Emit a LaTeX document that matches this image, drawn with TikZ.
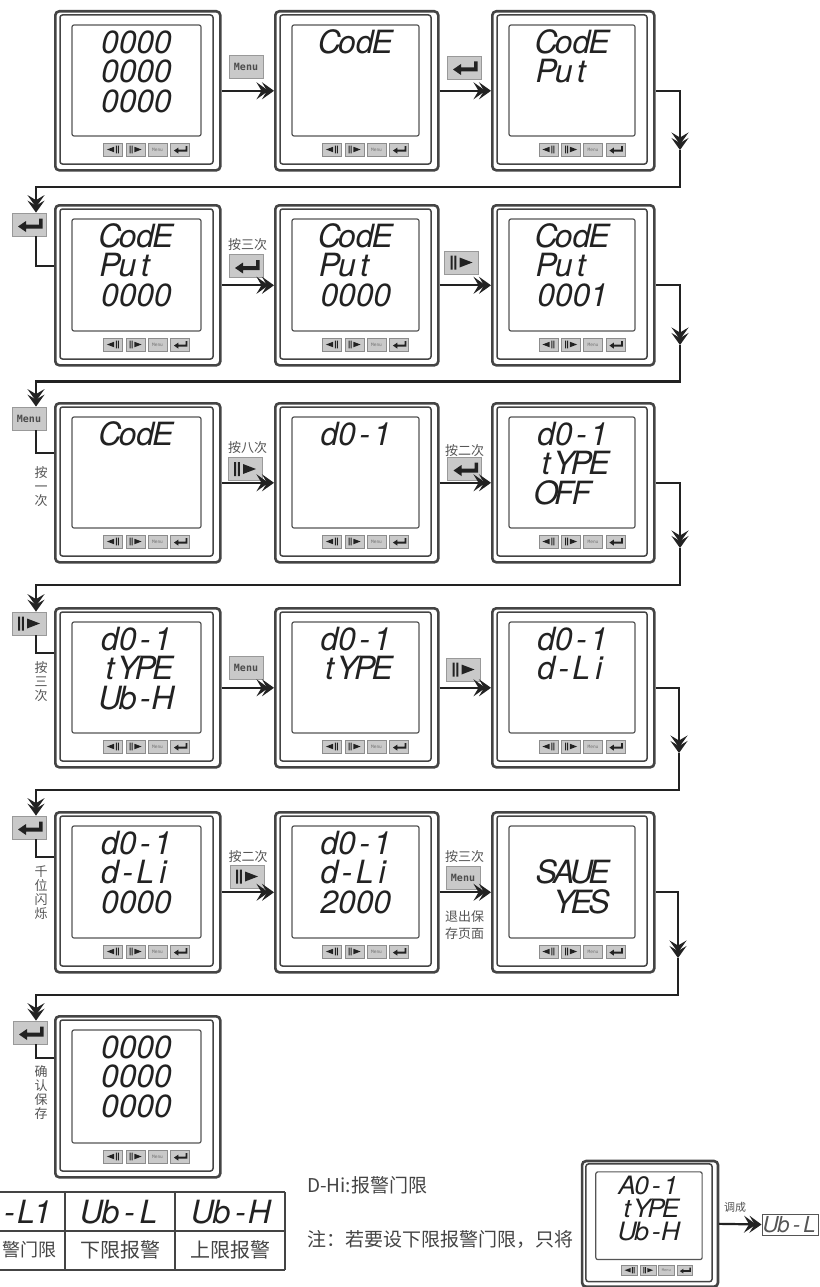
\documentclass[tikz,border=0pt]{standalone}
\usepackage{fontspec}
\usetikzlibrary{arrows.meta}
\setmainfont{Liberation Sans}
\newfontfamily\cjk{Noto Sans CJK SC}
\newfontfamily\lcdfont{TeX Gyre Heros}
\newfontfamily\menufont{DejaVu Sans Mono}
\definecolor{ink}{HTML}{222222}
\definecolor{frame}{HTML}{444444}
\definecolor{keyfill}{HTML}{C9C9C9}
\definecolor{labelc}{HTML}{555555}
\newlength\lcdw
\setlength\lcdw{17.6pt}
\makeatletter
\newcommand\lcdcells[1]{\@tfor\lcdc:=#1\do{\makebox[\lcdw][c]{\lcdc}}}
\makeatother
\newcommand\lcdsize[1]{\fontsize{#1}{#1}\lcdfont\itshape}
\tikzset{
  outerbox/.style={draw=frame,line width=2.6pt,rounded corners=4pt,inner sep=0pt,fill=white},
  innerbox/.style={draw=frame,line width=1.5pt,rounded corners=2.5pt,inner sep=0pt},
  screenbox/.style={draw=labelc,line width=1.2pt,rounded corners=2pt,inner sep=0pt},
  minikey/.style={draw=black!45,line width=.8pt,fill=keyfill,minimum width=19pt,minimum height=13pt,inner sep=0pt,font=\menufont\fontsize{4.5}{5}\selectfont,text=black!55},
  bigkey/.style={draw=black!40,line width=.8pt,fill=keyfill,minimum width=34pt,minimum height=23pt,inner sep=0pt,font=\menufont\bfseries\fontsize{10}{11}\selectfont,text=black!70},
  flow/.style={draw=ink,line width=2.2pt,line join=miter,-{Stealth[length=12pt,width=17pt,inset=5pt,sep=-6.5pt]Stealth[length=12pt,width=17pt,inset=5pt]}},
  plain/.style={draw=ink,line width=2.2pt,line join=miter},
  cjklabel/.style={font=\cjk\fontsize{13}{14}\selectfont,text=labelc,inner sep=0pt,align=center},
  notetext/.style={font=\cjk\fontsize{19}{21}\selectfont,text=frame,inner sep=0pt,anchor=west},
  celltext/.style={font=\cjk\fontsize{20}{22}\selectfont,text=frame,inner sep=0pt},
  lcdtext/.style={inner sep=0pt,text=ink},
  tbl/.style={draw=frame,line width=1.1pt},
  ienter/.pic={\fill[ink] (-11,2)--(-3,-3.5)--(-3,0)--(10,0)--(10,-6)--(13.5,-6)--(13.5,4)--(-3,4)--(-3,7.5)--cycle;},
  iright/.pic={\fill[ink] (-10.8,-7) rectangle (-8.8,7) (-7.2,-7) rectangle (-5.2,7) (-2,-5)--(11,0)--(-2,5)--cycle;},
  ileft/.pic={\fill[ink] (10.8,-7) rectangle (8.8,7) (7.2,-7) rectangle (5.2,7) (2,-5)--(-11,0)--(2,5)--cycle;},
}
% a whole instrument front panel
\newcommand\panel[7][]{%
  \begin{scope}[shift={(#3,#4)},transform shape,#1]
    \def\pname{#2}\def\plx{#5*0.285}
    \node[outerbox,anchor=north west,minimum width=#5pt,minimum height=#6pt] (#2) at (0,0) {};
    \node[innerbox,minimum width={(#5-12)*1pt},minimum height={(#6-10)*1pt}] (#2-f) at (#5/2,#6/2) {};
    \node[screenbox,minimum width={(#5-36)*1pt},minimum height={(#6-48)*1pt}] (#2-s) at (#5/2,#6/2-9) {};
    \node[minikey] (#2-k1) at (#5/2-23.5,#6-19.5) {};
    \node[minikey] (#2-k2) at (#5/2-1,#6-19.5) {};
    \node[minikey] (#2-k3) at (#5/2+21,#6-19.5) {Menu};
    \node[minikey] (#2-k4) at (#5/2+43.5,#6-19.5) {};
    \path (#2-k1) pic[scale=.55] {ileft};
    \path (#2-k2) pic[scale=.55] {iright};
    \path (#2-k4) pic[scale=.55] {ienter};
    #7
  \end{scope}}
% one line of display text: line number, cell offset, text
\newcommand\lcdl[3]{%
  \node[lcdtext,anchor=base west] (\pname-l#1) at ({\plx+#2*17.6},{14.5+29.2*#1}) {\lcdsize{32}\lcdcells{#3}};}
% a loose key with a symbol
\newcommand\looseicon[4]{\node[bigkey] (#1) at (#2,#3) {}; \path (#1) pic {#4};}
\newcommand\loosemenu[3]{\node[bigkey] (#1) at (#2,#3) {Menu};}
% return path from the end of one row to the start of the next
\newcommand\rowreturn[7]{% from, key, to, tip y, horizontal y, stub y, right x
  \coordinate (t#2) at (#7,#4);
  \coordinate (hr#2) at (#7,#5);
  \coordinate (hl#2) at (36,#5);
  \coordinate (s#2) at (36,#6);
  \draw[flow] (#1.east) -| (t#2);
  \draw[flow] (t#2) -- (hr#2) -- (hl#2) -- (#2.north -| hl#2);
  \draw[plain] (#2.south -| s#2) -- (s#2) -- (#3.west |- s#2);}
\begin{document}
\begin{tikzpicture}[x=1pt,y=-1pt]
\useasboundingbox (0,0) rectangle (819,1287);
\clip (0,0) rectangle (819,1287);
\fill[white] (0,0) rectangle (819,1287);

% row 1
\panel{a1}{54}{10}{165}{159}{\lcdl{1}{0}{0000}\lcdl{2}{0}{0000}\lcdl{3}{0}{0000}}
\panel{b1}{274}{10}{163}{159}{\lcdl{1}{0}{CodE}}
\panel{c1}{491}{10}{162}{159}{\lcdl{1}{0}{CodE}\lcdl{2}{0}{Put}}
% row 2
\panel{a2}{54}{204}{165}{160}{\lcdl{1}{0}{CodE}\lcdl{2}{0}{Put}\lcdl{3}{0}{0000}}
\panel{b2}{274}{204}{163}{160}{\lcdl{1}{0}{CodE}\lcdl{2}{0}{Put}\lcdl{3}{0}{0000}}
\panel{c2}{491}{204}{162}{160}{\lcdl{1}{0}{CodE}\lcdl{2}{0}{Put}\lcdl{3}{0}{0001}}
% row 3
\panel{a3}{54}{402}{165}{159}{\lcdl{1}{0}{CodE}}
\panel{b3}{274}{402}{163}{159}{\lcdl{1}{0}{d0-1}}
\panel{c3}{491}{402}{162}{159}{\lcdl{1}{0}{d0-1}\lcdl{2}{0}{tYPE}\lcdl{3}{0}{OFF}}
% row 4
\panel{a4}{54}{607}{165}{159}{\lcdl{1}{0}{d0-1}\lcdl{2}{0}{tYPE}\lcdl{3}{0}{Ub-H}}
\panel{b4}{274}{607}{163}{159}{\lcdl{1}{0}{d0-1}\lcdl{2}{0}{tYPE}}
\panel{c4}{491}{607}{162}{159}{\lcdl{1}{0}{d0-1}\lcdl{2}{0}{d-Li}}
% row 5
\panel{a5}{54}{811}{165}{160}{\lcdl{1}{0}{d0-1}\lcdl{2}{0}{d-Li}\lcdl{3}{0}{0000}}
\panel{b5}{274}{811}{163}{160}{\lcdl{1}{0}{d0-1}\lcdl{2}{0}{d-Li}\lcdl{3}{0}{2000}}
\panel{c5}{491}{811}{162}{160}{\lcdl{2}{0}{SAUE}\lcdl{3}{1}{YES}}
% row 6
\panel{a6}{54}{1015}{165}{161}{\lcdl{1}{0}{0000}\lcdl{2}{0}{0000}\lcdl{3}{0}{0000}}
% small panel at the bottom right
\panel[xscale=.824,yscale=.79]{e1}{581}{1160}{165}{159}{\lcdl{1}{0}{A0-1}\lcdl{2}{0}{tYPE}\lcdl{3}{0}{Ub-H}}

% keys between panels
\loosemenu{m1}{246}{66.5}
\looseicon{m2}{464}{67.5}{ienter}
\looseicon{m3}{246}{266}{ienter}
\looseicon{m4}{461.5}{262.5}{iright}
\looseicon{m5}{245}{469}{iright}
\looseicon{m6}{464.5}{468.5}{ienter}
\loosemenu{m7}{246}{667.5}
\looseicon{m8}{463.5}{669.5}{iright}
\looseicon{m9}{247}{876.5}{iright}
\loosemenu{m10}{463}{877.5}

% keys at the row starts
\looseicon{n2}{29}{224.5}{ienter}
\loosemenu{n3}{29}{418.5}
\looseicon{n4}{29}{623.5}{iright}
\looseicon{n5}{29}{827.5}{ienter}
\looseicon{n6}{30}{1032.5}{ienter}

% labels
\node[cjklabel] (p1) at (247.5,245) {按三次};
\node[cjklabel] (p2) at (247.5,448) {按八次};
\node[cjklabel] (p3) at (464.5,451) {按二次};
\node[cjklabel] (p4) at (248,857) {按二次};
\node[cjklabel] (p5) at (464.5,857) {按三次};
\node[cjklabel] (p6) at (464.5,925.5) {退出保\\[3pt]存页面};
\node[cjklabel] (v1) at (41,487) {按\\一\\次};
\node[cjklabel] (v2) at (41,682) {按\\三\\次};
\node[cjklabel] (v3) at (41,893) {千\\位\\闪\\烁};
\node[cjklabel] (v4) at (41,1093) {确\\认\\保\\存};

% connectors within rows
\draw[flow] (a1.east) -- (b1.west);
\draw[flow] (b1.east) -- (c1.west);
\draw[flow] (a2.east) -- (b2.west);
\draw[flow] (b2.east) -- (c2.west);
\draw[flow] (a3.east) -- (b3.west);
\draw[flow] (b3.east) -- (c3.west);
\draw[flow] (a4.east) -- (b4.west);
\draw[flow] (b4.east) -- (c4.west);
\draw[flow] (a5.east) -- (b5.west);
\draw[flow] (b5.east) -- (c5.west);

% return paths
\rowreturn{c1}{n2}{a2}{150}{187}{266}{680}
\rowreturn{c2}{n3}{a3}{345}{381.5}{453}{680}
\rowreturn{c3}{n4}{a4}{548}{585}{653}{680}
\rowreturn{c4}{n5}{a5}{753}{790}{857}{679}
\rowreturn{c5}{n6}{a6}{958}{995}{1058}{678}

% table
\draw[tbl] (0,1192) -- (285,1192);
\draw[tbl] (0,1231) -- (285,1231);
\draw[tbl] (0,1270) -- (285,1270);
\draw[tbl] (65,1192) -- (65,1270);
\draw[tbl] (175,1192) -- (175,1270);
\draw[tbl] (285,1192) -- (285,1270);
\setlength\lcdw{16.5pt}
\node[lcdtext,anchor=base west] (th1) at (1,1223) {\lcdsize{32}\lcdcells{-L1}};
\setlength\lcdw{19pt}
\node[lcdtext,anchor=base] (th2) at (120,1223) {\lcdsize{32}\lcdcells{Ub-L}};
\node[lcdtext,anchor=base] (th3) at (231,1223) {\lcdsize{32}\lcdcells{Ub-H}};
\node[celltext,anchor=west,font=\cjk\fontsize{18}{20}\selectfont] (td1) at (2,1250) {警门限};
\node[celltext] (td2) at (120,1250) {下限报警};
\node[celltext] (td3) at (230,1250) {上限报警};

% notes
\node[notetext] (note1) at (307,1185) {D-Hi:报警门限};
\node[notetext] (note2) at (307,1239) {注：若要设下限报警门限，只将};

% conversion on the right
\setlength\lcdw{13pt}
\node[draw=labelc,line width=1pt,inner sep=0pt,minimum width=56pt,minimum height=21pt,text=labelc] (ub) at (790,1224.5) {\lcdsize{22}\lcdcells{Ub-L}};
\draw[flow] (e1.east) -- (ub.west);
\node[cjklabel,font=\cjk\fontsize{11}{12}\selectfont] (p7) at (735,1207) {调成};
\end{tikzpicture}
\end{document}
